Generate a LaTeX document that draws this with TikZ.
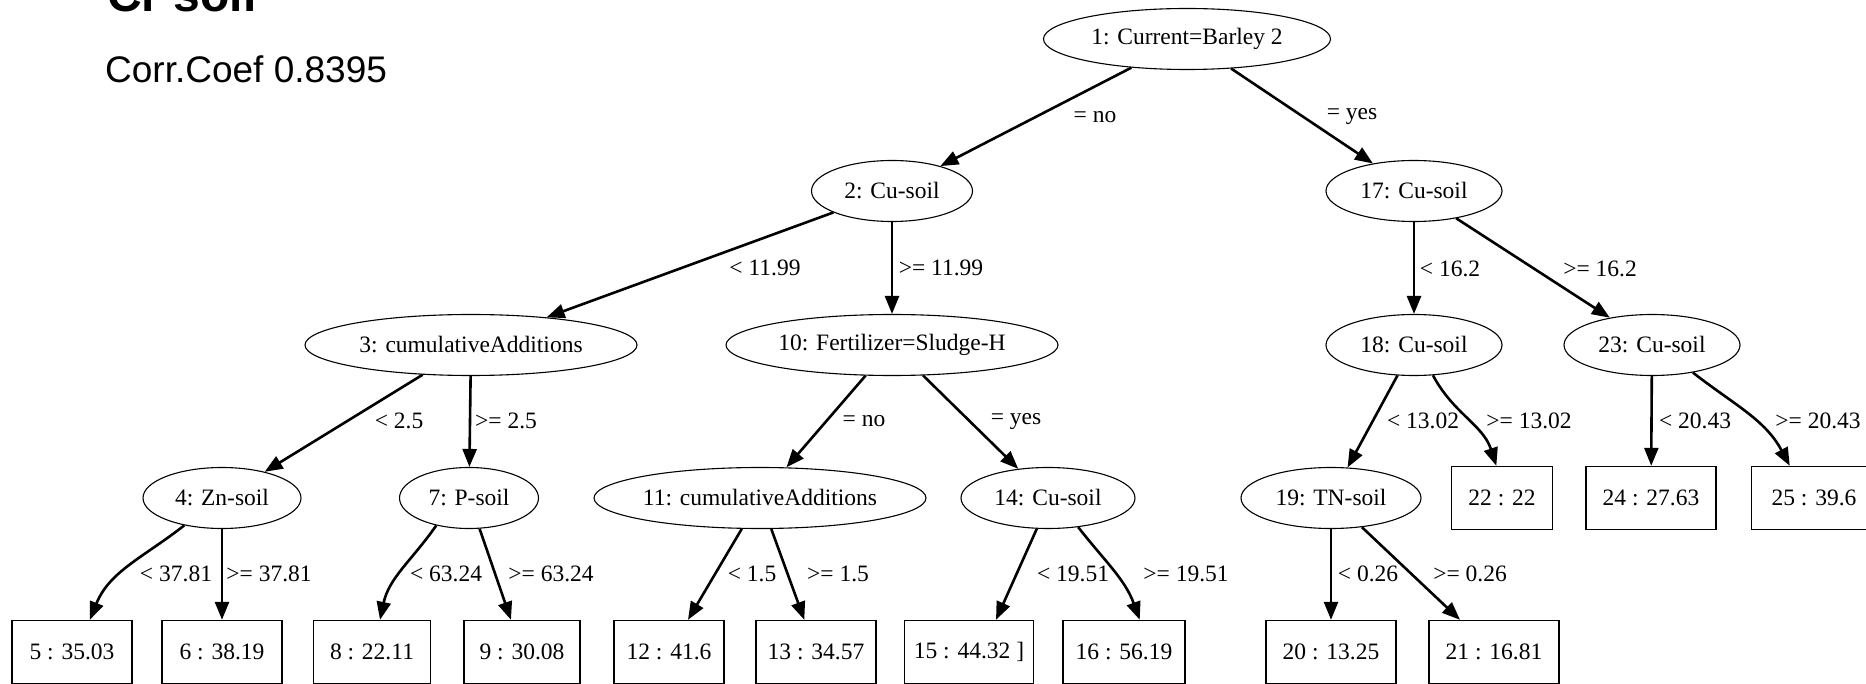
\documentclass[tikz,border=0pt]{standalone}
\usepackage{fontspec}
\setmainfont{Liberation Serif}
\newfontfamily\arialfont{Liberation Sans}
\usetikzlibrary{shapes.geometric,arrows.meta}
\begin{document}
\begin{tikzpicture}[x=1pt,y=-1pt,
  every node/.style={font=\fontsize{23.5}{28}\selectfont},
  splitnode/.style={ellipse, draw, line width=1.1pt, inner sep=0pt, minimum height=61pt},
  leaf/.style={rectangle, draw, line width=1.4pt, inner sep=0pt, minimum height=63pt},
  edgearrow/.style={line width=2.6pt, -{Triangle[length=18pt,width=14pt]}},
  lbl/.style={inner sep=0pt}
]
\useasboundingbox (0,0) rectangle (1866,684);
\clip (0,0) rectangle (1866,684);
% title (cut off at top)
\node[anchor=base west, inner sep=0pt, font=\arialfont\bfseries\fontsize{48}{56}\selectfont] (title) at (107,12) {Cr soil};
\node[anchor=base west, inner sep=0pt, font=\arialfont\fontsize{37}{44}\selectfont] (corr) at (105,83) {Corr.Coef 0.8395};
% split nodes
\node[splitnode, minimum width=287pt] (n1) at (1187,39) {1: Current=Barley 2};
\node[splitnode, minimum width=161pt] (n2) at (892,191) {2: Cu-soil};
\node[splitnode, minimum width=176pt] (n17) at (1414,191) {17: Cu-soil};
\node[splitnode, minimum width=332pt] (n3) at (471,345) {3: cumulativeAdditions};
\node[splitnode, minimum width=332pt] (n10) at (892,345) {10: Fertilizer=Sludge-H};
\node[splitnode, minimum width=176pt] (n18) at (1414,345) {18: Cu-soil};
\node[splitnode, minimum width=176pt] (n23) at (1652,345) {23: Cu-soil};
\node[splitnode, minimum width=158pt] (n4) at (222,498) {4: Zn-soil};
\node[splitnode, minimum width=139pt] (n7) at (469,498) {7: P-soil};
\node[splitnode, minimum width=332pt] (n11) at (760,498) {11: cumulativeAdditions};
\node[splitnode, minimum width=174pt] (n14) at (1048,498) {14: Cu-soil};
\node[splitnode, minimum width=180pt] (n19) at (1331,498) {19: TN-soil};
% leaves
\node[leaf, minimum width=101pt] (n22) at (1502,498) {22 : 22};
\node[leaf, minimum width=130pt] (n24) at (1651,498) {24 : 27.63};
\node[leaf, minimum width=125pt] (n25) at (1814,498) {25 : 39.6};
\node[leaf, minimum width=120pt] (n5) at (72,652) {5 : 35.03};
\node[leaf, minimum width=120pt] (n6) at (222,652) {6 : 38.19};
\node[leaf, minimum width=117pt] (n8) at (372,652) {8 : 22.11};
\node[leaf, minimum width=116pt] (n9) at (522,652) {9 : 30.08};
\node[leaf, minimum width=110pt] (n12) at (669,652) {12 : 41.6};
\node[leaf, minimum width=120pt] (n13) at (816,652) {13 : 34.57};
\node[leaf, minimum width=129pt] (n15) at (969,652) {15 : 44.32 ]};
\node[leaf, minimum width=122pt] (n16) at (1124,652) {16 : 56.19};
\node[leaf, minimum width=130pt] (n20) at (1331,652) {20 : 13.25};
\node[leaf, minimum width=130pt] (n21) at (1494,652) {21 : 16.81};
% edges
\draw[edgearrow] (n1) -- (n2);
\draw[edgearrow] (n1) -- (n17);
\draw[edgearrow] (n2) -- (n3);
\draw[edgearrow] (n2) -- (n10);
\draw[edgearrow] (n17) -- (n18);
\draw[edgearrow] (n17) -- (n23);
\draw[edgearrow] (n3) -- (n4);
\draw[edgearrow] (n3) -- (n7);
\draw[edgearrow] (n10) -- (n11);
\draw[edgearrow] (n10) -- (n14);
\draw[edgearrow] (n18) -- (n19);
\draw[edgearrow] (n18.302) to[out=298,in=108] (n22.100);
\draw[edgearrow] (n23) -- (n24);
\draw[edgearrow] (n23.326) to[out=322,in=118] (n25.127);
\draw[edgearrow] (n4.216) to[out=218,in=68] (n5.61);
\draw[edgearrow] (n4) -- (n6);
\draw[edgearrow] (n7.220) to[out=235,in=78] (n8.76);
\draw[edgearrow] (n7) -- (n9);
\draw[edgearrow] (n11) -- (n12);
\draw[edgearrow] (n11) -- (n13);
\draw[edgearrow] (n14.250) -- (n15.50);
\draw[edgearrow] (n14.316) to[out=308,in=110] (n16.64);
\draw[edgearrow] (n19) -- (n20);
\draw[edgearrow] (n19) -- (n21);
% edge labels
\node[lbl] (l1) at (1095,117) {= no};
\node[lbl] (l2) at (1352,117) {= yes};
\node[lbl] (l3) at (765,268) {< 11.99};
\node[lbl] (l4) at (941,268) {>= 11.99};
\node[lbl] (l5) at (1450,269) {< 16.2};
\node[lbl] (l6) at (1600,269) {>= 16.2};
\node[lbl] (l7) at (399,421) {< 2.5};
\node[lbl] (l8) at (506,421) {>= 2.5};
\node[lbl] (l9) at (864,421) {= no};
\node[lbl] (l10) at (1016,421) {= yes};
\node[lbl] (l11) at (1423,421) {< 13.02};
\node[lbl] (l12) at (1529,421) {>= 13.02};
\node[lbl] (l13) at (1695,421) {< 20.43};
\node[lbl] (l14) at (1818,421) {>= 20.43};
\node[lbl] (l15) at (176,574) {< 37.81};
\node[lbl] (l16) at (269,574) {>= 37.81};
\node[lbl] (l17) at (446,574) {< 63.24};
\node[lbl] (l18) at (551,574) {>= 63.24};
\node[lbl] (l19) at (752,574) {< 1.5};
\node[lbl] (l20) at (838,574) {>= 1.5};
\node[lbl] (l21) at (1073,574) {< 19.51};
\node[lbl] (l22) at (1186,574) {>= 19.51};
\node[lbl] (l23) at (1368,574) {< 0.26};
\node[lbl] (l24) at (1470,574) {>= 0.26};
\end{tikzpicture}
\end{document}
